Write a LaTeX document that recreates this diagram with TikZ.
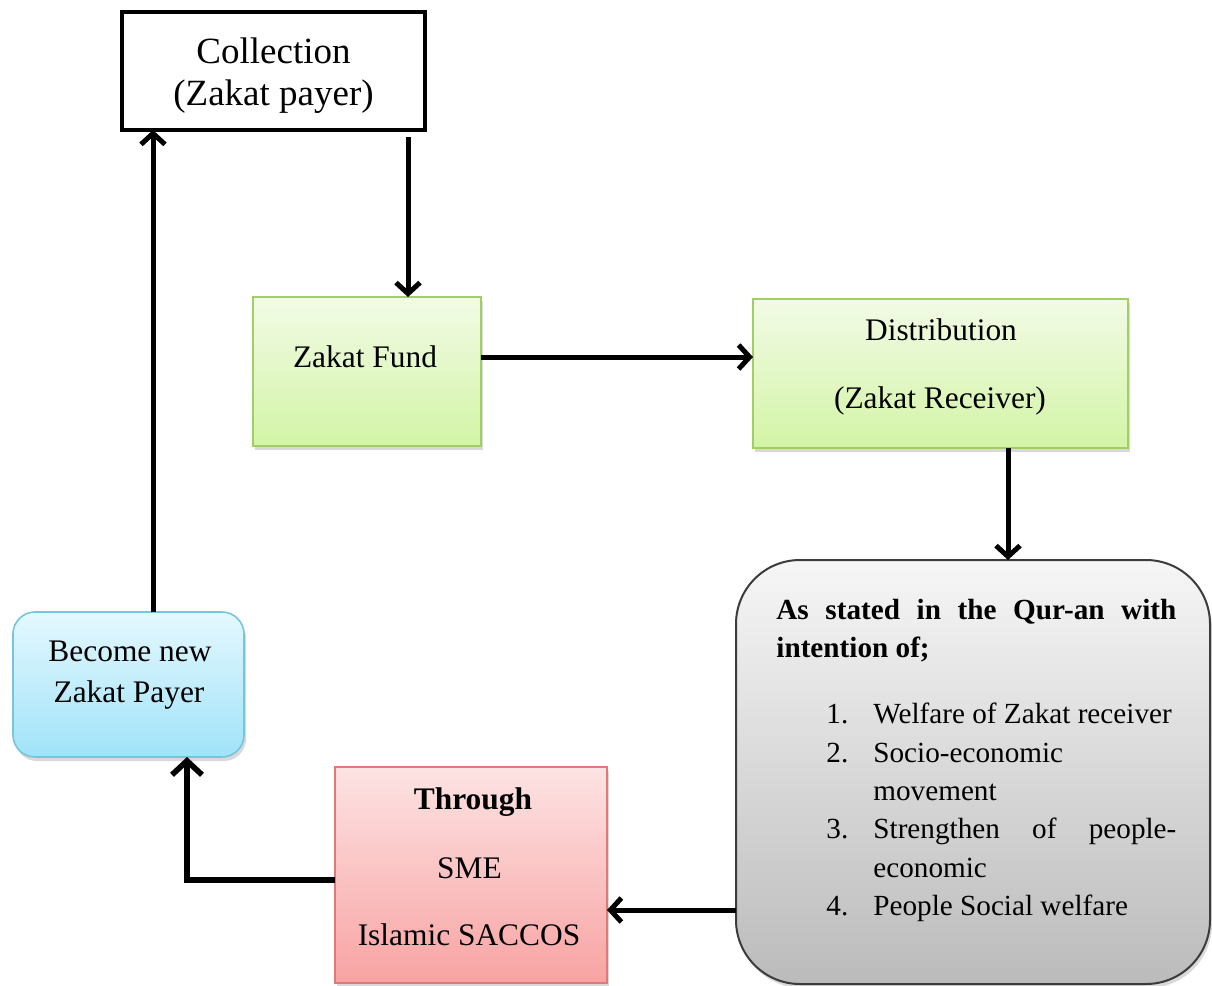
\documentclass[tikz,border=0pt]{standalone}
\usepackage{fontspec}
\setmainfont{Liberation Serif}
\usetikzlibrary{arrows.meta,shadows,calc}
\definecolor{grtop}{HTML}{F2FBE6}
\definecolor{grbot}{HTML}{D3F4A6}
\definecolor{grline}{HTML}{A2CE68}
\definecolor{bltop}{HTML}{E4F8FE}
\definecolor{blbot}{HTML}{A0E3F8}
\definecolor{blline}{HTML}{78C4DA}
\definecolor{rdtop}{HTML}{FDE3E3}
\definecolor{rdbot}{HTML}{F8A3A3}
\definecolor{rdline}{HTML}{E07A7A}
\definecolor{gytop}{HTML}{F6F6F6}
\definecolor{gybot}{HTML}{BBBBBB}
\definecolor{gyline}{HTML}{3C3C3C}
\tikzset{
  box/.style={inner sep=0pt, outer sep=0pt},
  shad/.style={drop shadow={opacity=0.3,shadow xshift=1pt,shadow yshift=-2pt}},
  greenbox/.style={box,shad,draw=grline,line width=0.8pt,top color=grtop,bottom color=grbot},
  bluebox/.style={box,shad,draw=blline,line width=0.8pt,top color=bltop,bottom color=blbot,rounded corners=11pt},
  redbox/.style={box,shad,draw=rdline,line width=0.8pt,top color=rdtop,bottom color=rdbot},
  graybox/.style={box,shad,draw=gyline,line width=1pt,top color=gytop,bottom color=gybot,rounded corners=32pt},
  lbl/.style={anchor=base,inner sep=0pt,font=\fontsize{15.7}{18}\selectfont},
  glbl/.style={anchor=base west,inner sep=0pt,font=\fontsize{14.6}{18}\selectfont},
  arr/.style={line width=2.5pt,-{Straight Barb[length=5.5pt,width=12pt]}},
  bigarr/.style={line width=2.8pt,-{Straight Barb[length=7pt,width=15pt]}},
}
\begin{document}
\begin{tikzpicture}[x=0.5pt,y=-0.5pt]
\useasboundingbox (0,0) rectangle (1212,986);
% boxes
\node[box,draw=black,line width=2pt,fill=white,minimum width=151.5pt,minimum height=59pt] (col) at (273.5,71) {};
\node[greenbox,minimum width=114pt,minimum height=74.5pt] (fund) at (367,371.5) {};
\node[greenbox,minimum width=187.5pt,minimum height=74.5pt] (dist) at (940.5,373.5) {};
\node[graybox,minimum width=237pt,minimum height=212pt] (gray) at (973,772) {};
\node[bluebox,minimum width=115.5pt,minimum height=72.5pt] (bec) at (128.5,684.5) {};
\node[redbox,minimum width=136pt,minimum height=108pt] (thr) at (471,875) {};
% texts
\node[lbl,font=\fontsize{18.5}{22}\selectfont] (t1) at (273.5,63) {Collection};
\node[lbl,font=\fontsize{18.5}{22}\selectfont] (t2) at (273.5,105) {(Zakat payer)};
\node[lbl] (t3) at (365,367) {Zakat Fund};
\node[lbl] (t4) at (941,340) {Distribution};
\node[lbl] (t5) at (940,408) {(Zakat Receiver)};
\node[lbl] (t6) at (130,661) {Become new};
\node[lbl] (t7) at (129,702) {Zakat Payer};
\node[lbl,font=\fontsize{15.7}{18}\selectfont\bfseries] (t8) at (473,809) {Through};
\node[lbl] (t9) at (469.5,878) {SME};
\node[lbl] (t10) at (469,945) {Islamic SACCOS};
\node[glbl,font=\fontsize{14.6}{18}\selectfont\bfseries] (h1) at (776,619) {\makebox[200pt][s]{As stated in the Qur-an with}};
\node[glbl,font=\fontsize{14.6}{18}\selectfont\bfseries] (h2) at (776,657) {intention of;};
\node[glbl] (n1) at (826,723) {1.};
\node[glbl] (l1) at (873,723) {Welfare of Zakat receiver};
\node[glbl] (n2) at (826,762) {2.};
\node[glbl] (l2) at (873,762) {Socio-economic};
\node[glbl] (l2b) at (873,800) {movement};
\node[glbl] (n3) at (826,838) {3.};
\node[glbl] (l3) at (873,838) {\makebox[151.5pt][s]{Strengthen of people-}};
\node[glbl] (l3b) at (873,877) {economic};
\node[glbl] (n4) at (826,915) {4.};
\node[glbl] (l4) at (873,915) {People Social welfare};
% connectors
\draw[arr] ($(col.south)+(134.5,7)$) -- ($(fund.north)+(41,0)$);
\draw[arr] ($(fund.east)+(0,-14.5)$) -- ($(dist.west)+(0,-16.5)$);
\draw[arr] ($(dist.south)+(67.5,0)$) -- ($(gray.north)+(35,0)$);
\draw[arr] ($(gray.west)+(0,138)$) -- ($(thr.east)+(0,35)$);
\draw[bigarr] ($(thr.west)+(0,5)$) -| ($(bec.south)+(58.5,0)$);
\draw[arr] ($(bec.north)+(24.5,0)$) -- ($(col.south)+(-120.5,0)$);
\end{tikzpicture}
\end{document}
